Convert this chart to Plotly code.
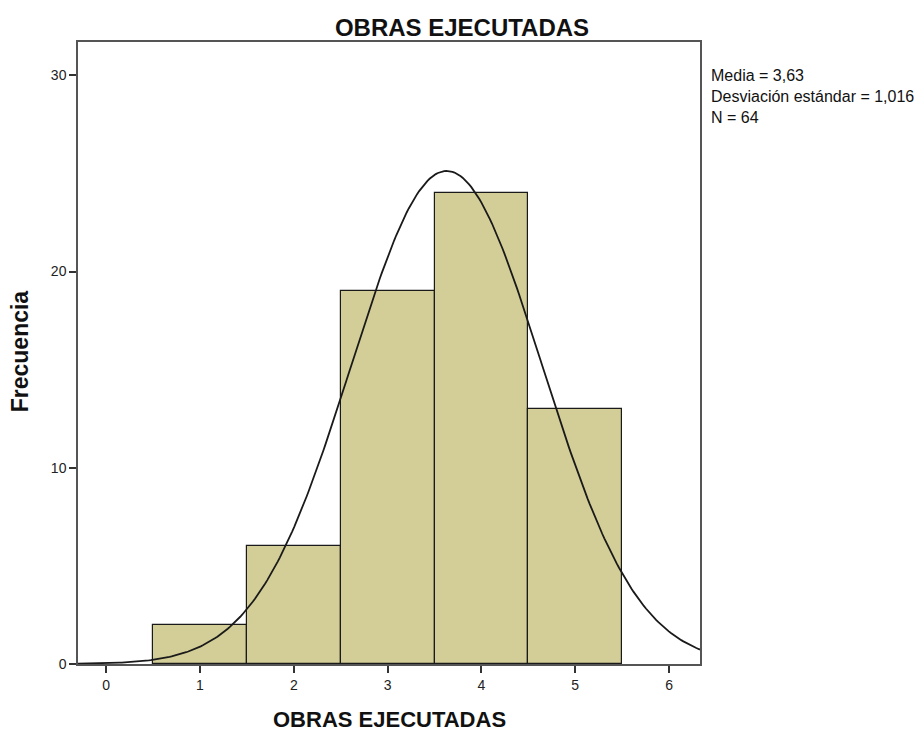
import numpy as np
import plotly.graph_objects as go

# histogram data
valores = [1, 2, 3, 4, 5]
frecuencias = [2, 6, 19, 24, 13]
x_ticks = [0, 1, 2, 3, 4, 5, 6]
y_ticks = [0, 10, 20, 30]

# summary stats shown beside the plot
media = 3.63
desviacion = 1.016
n_total = 64

FILL = "#D3CE97"
FONT = "Liberation Sans, Arial, sans-serif"

fig = go.Figure()

fig.add_trace(
    go.Bar(
        x=valores,
        y=frecuencias,
        width=1,
        marker=dict(color=FILL, line=dict(color="#1a1a1a", width=1.2)),
        showlegend=False,
        hoverinfo="x+y",
    )
)

# normal curve scaled to counts (bin width = 1)
xc = np.linspace(-0.3, 6.33, 300)
yc = n_total / (desviacion * np.sqrt(2 * np.pi)) * np.exp(-0.5 * ((xc - media) / desviacion) ** 2)
fig.add_trace(
    go.Scatter(
        x=xc,
        y=yc,
        mode="lines",
        line=dict(color="#1a1a1a", width=1.8),
        showlegend=False,
        hoverinfo="skip",
    )
)

stats_text = "<br>".join([
    f"Media = {media:.2f}".replace(".", ","),
    f"Desviación estándar = {desviacion:.3f}".replace(".", ","),
    f"N = {n_total}",
])

axis_style = dict(
    ticks="outside",
    ticklen=7,
    tickwidth=1.5,
    tickcolor="#333333",
    showgrid=False,
    zeroline=False,
    showline=True,
    linecolor="#555555",
    linewidth=1.5,
    mirror=True,
    automargin=False,
    tickfont=dict(size=14, color="#222222"),
)

fig.update_layout(
    width=924,
    height=731,
    margin=dict(l=78, r=224, t=42, b=67),
    paper_bgcolor="white",
    plot_bgcolor="white",
    font=dict(family=FONT, color="#222222"),
    bargap=0,
    title=dict(
        text="<b>OBRAS EJECUTADAS</b>",
        x=0.5,
        xref="container",
        xanchor="center",
        y=0.9617,
        yanchor="middle",
        font=dict(size=24, color="#111111"),
    ),
    xaxis=dict(range=[-0.3, 6.33], tickvals=x_ticks, **axis_style),
    yaxis=dict(range=[0, 31.7], tickvals=y_ticks, **axis_style),
    annotations=[
        # axis titles
        dict(
            text="<b>OBRAS EJECUTADAS</b>",
            xref="paper", yref="paper",
            x=0.5, y=-0.09,
            xanchor="center", yanchor="middle",
            showarrow=False,
            font=dict(size=22, color="#111111"),
        ),
        dict(
            text="<b>Frecuencia</b>",
            xref="paper", yref="paper",
            x=-0.093, y=0.503,
            xanchor="center", yanchor="middle",
            textangle=-90,
            showarrow=False,
            font=dict(size=23, color="#111111"),
        ),
        # summary stats
        dict(
            text=stats_text,
            xref="paper", yref="paper",
            x=1.014, y=0.9116,
            xanchor="left", yanchor="middle",
            align="left",
            showarrow=False,
            font=dict(size=16, color="#111111"),
        ),
    ],
)

# drop the browser's default 8px body margin so the figure fills the window
fig.write_html(
    "out.html",
    config={"displayModeBar": False},
    post_script="document.body.style.margin = '0';",
)
